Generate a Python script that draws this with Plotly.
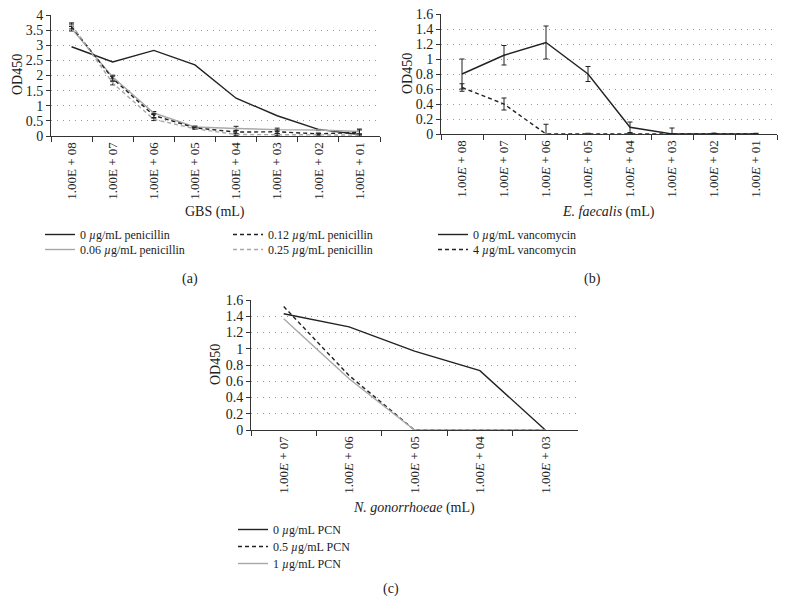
import plotly.graph_objects as go

# ---------------- data ----------------
gbs_cats = ["1.00E + 08", "1.00E + 07", "1.00E + 06", "1.00E + 05",
            "1.00E + 04", "1.00E + 03", "1.00E + 02", "1.00E + 01"]
gbs_0 = [2.95, 2.45, 2.83, 2.35, 1.25, 0.67, 0.22, 0.05]
gbs_006 = [3.55, 1.95, 0.76, 0.30, 0.25, 0.21, 0.20, 0.15]
gbs_006_err = [0.08, 0.06, 0.05, 0.03, 0.07, 0.05, 0.02, 0.08]
gbs_012 = [3.62, 1.90, 0.68, 0.27, 0.13, 0.14, 0.07, 0.12]
gbs_012_err = [0.08, 0.08, 0.07, 0.03, 0.06, 0.06, 0.03, 0.08]
gbs_025 = [3.68, 1.75, 0.55, 0.24, 0.05, 0.05, 0.05, 0.03]
gbs_025_err = [0.06, 0.06, 0.04, 0.02, 0.03, 0.03, 0.02, 0.03]

ef_cats = gbs_cats
ef_ticktext = ["1.00<i>E</i> + 08", "1.00<i>E</i> + 07", "1.00<i>E</i> + 06", "1.00<i>E</i> + 05",
               "1.00<i>E</i> + 04", "1.00<i>E</i> + 03", "1.00<i>E</i> + 02", "1.00<i>E</i> + 01"]
ef_0 = [0.80, 1.05, 1.22, 0.80, 0.09, 0.0, 0.0, 0.0]
ef_0_err = [0.20, 0.13, 0.22, 0.10, 0.07, 0.0, 0.01, 0.0]
ef_4 = [0.62, 0.40, 0.0, 0.0, 0.0, 0.0, 0.0, 0.0]
ef_4_err = [0.05, 0.08, 0.13, 0.01, 0.01, 0.08, 0.01, 0.01]

ng_cats = ["1.00E + 07", "1.00E + 06", "1.00E + 05", "1.00E + 04", "1.00E + 03"]
ng_ticktext = ["1.00<i>E</i> + 07", "1.00<i>E</i> + 06", "1.00<i>E</i> + 05",
               "1.00<i>E</i> + 04", "1.00<i>E</i> + 03"]
ng_0 = [1.43, 1.27, 0.97, 0.73, 0.0]
ng_05 = [1.52, 0.67, 0.0, 0.0, 0.0]
ng_1 = [1.37, 0.63, 0.0, 0.0, 0.0]

# ---------------- styling ----------------
W, H = 785, 615
FONT = "Liberation Serif"
BLACK = "#222222"
GRAY = "#a8a8a8"
DASH = "4px,3px"


def px_x(p):
    return p / W


def px_y(p):
    return 1 - p / H


fig = go.Figure()

# legend slots: (legend id, left px, top px)
slots = {
    "legend": (40, 220), "legend2": (40, 235),
    "legend3": (228, 220), "legend4": (228, 235),
    "legend5": (433, 220), "legend6": (433, 235),
    "legend7": (233, 515), "legend8": (233, 532), "legend9": (233, 549),
}


def add_line(x, y, name, color, dash, xa, ya, legend, err=None):
    kw = {}
    if err is not None:
        kw["error_y"] = dict(type="data", array=err, visible=True, color=BLACK,
                             thickness=1, width=2.5)
    fig.add_trace(go.Scatter(x=x, y=y, name=name, mode="lines",
                             line=dict(color=color, width=1.4, dash=dash),
                             xaxis=xa, yaxis=ya, legend=legend, **kw))


# panel a
add_line(gbs_cats, gbs_0, "0 <i>µ</i>g/mL penicillin", BLACK, "solid", "x", "y", "legend")
add_line(gbs_cats, gbs_006, "0.06 <i>µ</i>g/mL penicillin", GRAY, "solid", "x", "y", "legend2", gbs_006_err)
add_line(gbs_cats, gbs_012, "0.12 <i>µ</i>g/mL penicillin", BLACK, DASH, "x", "y", "legend3", gbs_012_err)
add_line(gbs_cats, gbs_025, "0.25 <i>µ</i>g/mL penicillin", GRAY, DASH, "x", "y", "legend4", gbs_025_err)
# panel b
add_line(ef_cats, ef_0, "0 <i>µ</i>g/mL vancomycin", BLACK, "solid", "x2", "y2", "legend5", ef_0_err)
add_line(ef_cats, ef_4, "4 <i>µ</i>g/mL vancomycin", BLACK, DASH, "x2", "y2", "legend6", ef_4_err)
# panel c
add_line(ng_cats, ng_0, "0 <i>µ</i>g/mL PCN", BLACK, "solid", "x3", "y3", "legend7")
add_line(ng_cats, ng_05, "0.5 <i>µ</i>g/mL PCN", BLACK, DASH, "x3", "y3", "legend8")
add_line(ng_cats, ng_1, "1 <i>µ</i>g/mL PCN", GRAY, "solid", "x3", "y3", "legend9")


def xaxis(domain, cats, ticktext, anchor):
    return dict(domain=domain, anchor=anchor, type="category", categoryorder="array",
                categoryarray=cats, tickvals=cats, ticktext=ticktext,
                range=[-0.5, len(cats) - 0.5], automargin=False,
                tickangle=-90, tickson="boundaries", ticks="outside", ticklen=5,
                tickcolor="#333", showline=True, linecolor="#333", linewidth=1,
                showgrid=False, zeroline=False,
                tickfont=dict(size=13, color="#222", family=FONT))


def yaxis(domain, rng, dtick, anchor):
    return dict(domain=domain, range=rng, dtick=dtick, anchor=anchor, automargin=False,
                ticks="outside", ticklen=4, tickcolor="#333",
                showline=True, linecolor="#333", linewidth=1,
                showgrid=True, gridcolor="#9a9a9a", gridwidth=1, griddash="1px,5px",
                zeroline=False, tickfont=dict(size=14, color="#222", family=FONT))


dom_ax = [px_x(51), px_x(380)]
dom_ay = [px_y(136), px_y(15)]
dom_bx = [px_x(441), px_x(777)]
dom_by = [px_y(134), px_y(14)]
dom_cx = [px_x(251), px_x(578)]
dom_cy = [px_y(430), px_y(300)]

layout_legends = {}
for lid, (lx, ly) in slots.items():
    layout_legends[lid] = dict(orientation="v", bgcolor="rgba(0,0,0,0)",
                               font=dict(size=12, color="#222", family=FONT),
                               xanchor="left", yanchor="top", itemwidth=30,
                               x=px_x(lx), y=px_y(ly), borderwidth=0)

fig.update_layout(
    template="none",
    width=W, height=H, margin=dict(l=0, r=0, t=0, b=0, autoexpand=False),
    paper_bgcolor="white", plot_bgcolor="white",
    font=dict(family=FONT, color="#222"),
    xaxis=xaxis(dom_ax, gbs_cats, gbs_cats, "y"),
    yaxis=yaxis(dom_ay, [0, 4], 0.5, "x"),
    xaxis2=xaxis(dom_bx, ef_cats, ef_ticktext, "y2"),
    yaxis2=yaxis(dom_by, [0, 1.6], 0.2, "x2"),
    xaxis3=xaxis(dom_cx, ng_cats, ng_ticktext, "y3"),
    yaxis3=yaxis(dom_cy, [0, 1.6], 0.2, "x3"),
    showlegend=True,
    **layout_legends,
)

ann = [
    ("GBS (mL)", 215, 212, 0),
    ("<i>E. faecalis</i> (mL)", 608, 212, 0),
    ("<i>N. gonorrhoeae</i> (mL)", 414, 508, 0),
    ("OD450", 17, 75, -90),
    ("OD450", 407, 74, -90),
    ("OD450", 215, 365, -90),
    ("(a)", 190, 279, 0),
    ("(b)", 592, 279, 0),
    ("(c)", 391, 589, 0),
]
for text, x, y, angle in ann:
    fig.add_annotation(text=text, x=px_x(x), y=px_y(y), xref="paper", yref="paper",
                       showarrow=False, textangle=angle, xanchor="center", yanchor="middle",
                       font=dict(size=14, color="#222", family=FONT))

fig.write_html("out.html", config={"displayModeBar": False},
               post_script="document.body.style.margin='0';document.body.style.overflow='hidden';")
